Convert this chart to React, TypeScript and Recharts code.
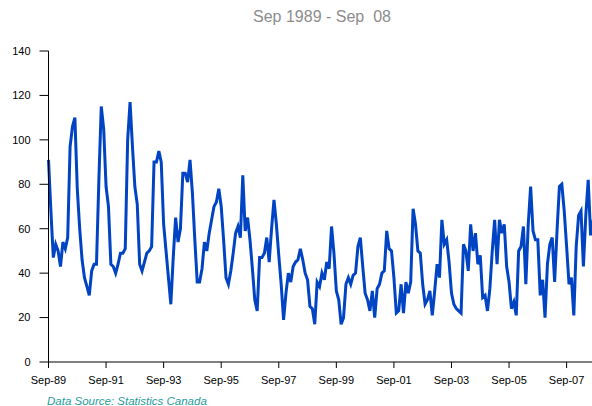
import { LineChart, Line, XAxis, YAxis } from 'recharts';

// Monthly values, Sep 1989 onward
const values = [
  91, 68, 47, 53, 50, 43, 54, 51, 56, 97, 106, 110,
  78, 60, 46, 38, 34, 30, 41, 44, 44, 82, 115, 105,
  79, 70, 44, 43, 40, 44, 49, 49, 51, 100, 117, 97,
  79, 71, 44, 41, 45, 49, 50, 52, 90, 90, 95, 90,
  62, 50, 38, 26, 47, 65, 54, 60, 85, 85, 81, 91,
  76, 55, 36, 36, 42, 54, 50, 58, 64, 70, 72, 78,
  70, 55, 38, 35, 41, 49, 58, 61, 56, 84, 59, 65,
  55, 42, 28, 23, 47, 47, 49, 56, 45, 60, 73, 62,
  48, 35, 19, 31, 40, 36, 43, 45, 46, 51, 46, 40,
  37, 25, 24, 17, 36, 34, 40, 37, 45, 42, 61, 49,
  32, 28, 17, 20, 35, 38, 35, 39, 40, 52, 56, 43,
  31, 28, 23, 32, 20, 33, 35, 40, 41, 59, 51, 50,
  38, 22, 23, 35, 22, 36, 31, 36, 69, 62, 50, 49,
  35, 26, 28, 32, 21, 32, 44, 38, 64, 53, 55, 45,
  31, 26, 24, 23, 22, 53, 50, 41, 62, 50, 58, 44,
  48, 29, 30, 23, 33, 50, 64, 44, 64, 58, 62, 43,
  36, 24, 27, 21, 50, 52, 61, 35, 62, 79, 59, 55,
  55, 30, 37, 20, 44, 53, 56, 36, 59, 79, 80, 68,
  52, 35, 38, 21, 52, 66, 68, 43, 66, 82, 57, 64,
];

const tickIndex = [0, 24, 48, 72, 96, 120, 144, 168, 192, 216];
const tickLabels = ['Sep-89', 'Sep-91', 'Sep-93', 'Sep-95', 'Sep-97', 'Sep-99', 'Sep-01', 'Sep-03', 'Sep-05', 'Sep-07'];
const yTicks = [0, 20, 40, 60, 80, 100, 120, 140];

const data = values.map((v, i) => ({ i, v }));

const font = '"Liberation Sans", Arial, sans-serif';

export default function App() {
  return (
    <div
      style={{
        position: 'absolute',
        left: 0,
        top: 0,
        width: 592,
        height: 406,
        overflow: 'hidden',
        background: '#fff',
        fontFamily: font,
      }}
    >
      <div
        style={{
          position: 'absolute',
          left: 0,
          width: 644,
          top: 8,
          textAlign: 'center',
          fontSize: 16,
          color: '#8c8c8c',
          whiteSpace: 'pre',
        }}
      >
        {'Sep 1989 - Sep  08'}
      </div>
      <div style={{ position: 'absolute', left: 0, top: 0 }}>
        <LineChart width={600} height={406} data={data} margin={{ top: 51, right: 7, bottom: 14, left: 0 }}>
          <XAxis
            dataKey="i"
            type="number"
            domain={[0, values.length - 1]}
            ticks={tickIndex}
            tickFormatter={(t: number) => tickLabels[tickIndex.indexOf(t)] ?? ''}
            stroke="#000"
            tickSize={6}
            tickMargin={8}
            tick={{ fill: '#000', fontSize: 11, fontFamily: font }}
            interval={0}
          />
          <YAxis
            domain={[0, 140]}
            ticks={yTicks}
            width={48.5}
            stroke="#000"
            tickSize={9}
            tickMargin={9}
            tick={{ fill: '#000', fontSize: 11, fontFamily: font }}
            interval={0}
          />
          <Line
            type="linear"
            dataKey="v"
            stroke="#0044c4"
            strokeWidth={3}
            dot={false}
            isAnimationActive={false}
          />
        </LineChart>
      </div>
      <div
        style={{
          position: 'absolute',
          left: 47,
          top: 395,
          fontSize: 11.5,
          fontStyle: 'italic',
          color: '#1f9b9b',
        }}
      >
        Data Source: Statistics Canada
      </div>
    </div>
  );
}
